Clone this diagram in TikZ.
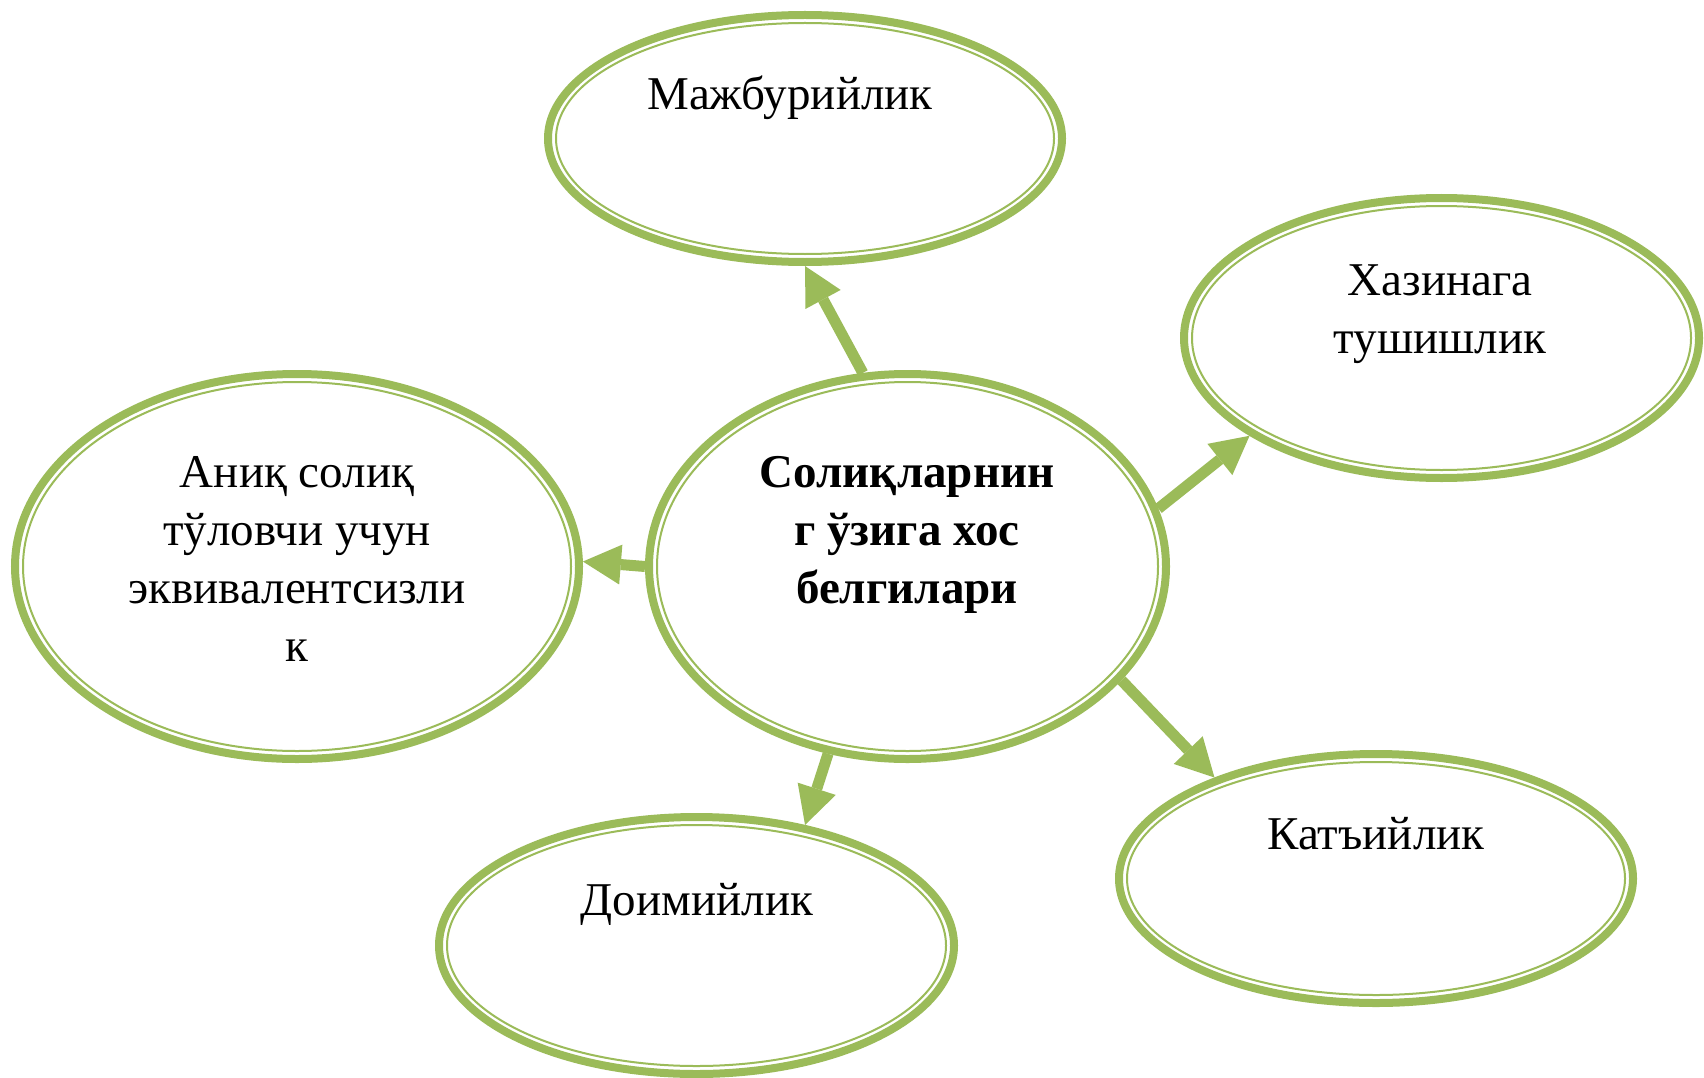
\documentclass[tikz,border=0pt]{standalone}
\usepackage{fontspec}
\setmainfont{Liberation Serif}
\usetikzlibrary{shapes.geometric,arrows.meta}
\definecolor{grn}{HTML}{9BBB59}
\setlength{\tabcolsep}{0pt}
\begin{document}
\begin{tikzpicture}[x=1pt,y=-1pt,
  oval/.style={ellipse,draw=grn,line width=8pt,inner sep=0pt},
  innerline/.style={draw=grn,line width=2pt},
  lbl/.style={anchor=base,inner sep=0pt,font=\fontsize{47}{58}\selectfont},
  conn/.style={draw=grn,line width=11pt,-{Triangle[length=38pt,width=40pt,line width=0pt]}}]
\useasboundingbox[fill=white] (0,0) rectangle (1704,1078);

% ellipses
\node[oval,minimum width=514pt,minimum height=247pt] (top) at (805,138.5) {};
\node[oval,minimum width=515pt,minimum height=280pt] (rgt) at (1441.5,338) {};
\node[oval,minimum width=564pt,minimum height=385pt] (lft) at (297,566.5) {};
\node[oval,minimum width=517pt,minimum height=385pt] (ctr) at (907.5,566.5) {};
\node[oval,minimum width=515pt,minimum height=257pt] (bl) at (696.5,945.5) {};
\node[oval,minimum width=514pt,minimum height=249pt] (br) at (1376,878.5) {};

% inner thin lines
\draw[innerline] (top.center) ellipse [x radius=249, y radius=115.5];
\draw[innerline] (rgt.center) ellipse [x radius=249.5, y radius=132];
\draw[innerline] (lft.center) ellipse [x radius=274, y radius=184.5];
\draw[innerline] (ctr.center) ellipse [x radius=250.5, y radius=184.5];
\draw[innerline] (bl.center) ellipse [x radius=249.5, y radius=120.5];
\draw[innerline] (br.center) ellipse [x radius=249, y radius=116.5];

% labels
\node[lbl] (ttop) at (790,110) {Мажбурийлик};
\node[lbl] (trgt) at (1440,295) {\begin{tabular}[t]{c}Хазинага\\тушишлик\end{tabular}};
\node[lbl] (tlft) at (297,487) {\begin{tabular}[t]{c}Аниқ солиқ\\тўловчи учун\\эквивалентсизли\\к\end{tabular}};
\node[lbl,font=\fontsize{47}{58}\selectfont\bfseries] (tctr) at (907,487) {\begin{tabular}[t]{c}Солиқларнин\\г ўзига хос\\белгилари\end{tabular}};
\node[lbl] (tbr) at (1376,849) {Катъийлик};
\node[lbl] (tbl) at (697,915) {Доимийлик};

% connectors
\draw[conn] (ctr.103) -- (top.270);
\draw[conn] (ctr.13) -- (rgt.207.6);
\draw[conn] (ctr.180.5) -- (lft.1.5);
\draw[conn] (ctr.247.6) -- (bl.48);
\draw[conn] (ctr.332.6) -- (br.148.2);
\end{tikzpicture}
\end{document}
